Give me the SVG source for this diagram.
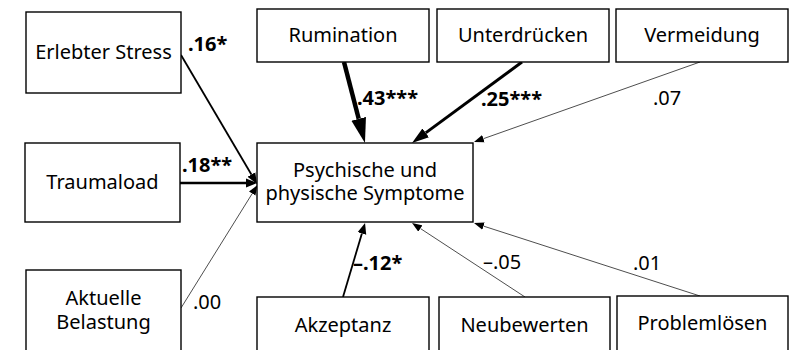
<svg xmlns="http://www.w3.org/2000/svg" width="800" height="350" viewBox="0 0 800 350">
<defs>
<style>
.box{fill:#fff;stroke:#000;stroke-width:1.4}
.t{font-family:"Noto Sans","Open Sans",sans-serif;font-size:20px;fill:#000;text-anchor:middle}
.l{font-family:"Noto Sans","Open Sans",sans-serif;font-size:20px;fill:#000}
.b{font-weight:bold}
.c{fill:none;stroke:#000}
</style>
<marker id="hXL" markerUnits="userSpaceOnUse" viewBox="0 -8 25 16" markerWidth="25" markerHeight="16" refX="0" refY="0" orient="auto"><path d="M0,-7.5 L25,0 L0,7.5 z"/></marker>
<marker id="hL" markerUnits="userSpaceOnUse" viewBox="0 -6 17 12" markerWidth="17" markerHeight="12" refX="0" refY="0" orient="auto"><path d="M0,-5.5 L17,0 L0,5.5 z"/></marker>
<marker id="hM" markerUnits="userSpaceOnUse" viewBox="0 -5 11 10" markerWidth="11" markerHeight="10" refX="0" refY="0" orient="auto"><path d="M0,-4.5 L11,0 L0,4.5 z"/></marker>
<marker id="hS" markerUnits="userSpaceOnUse" viewBox="0 -4 10 8" markerWidth="10" markerHeight="8" refX="0" refY="0" orient="auto"><path d="M0,-3.8 L10,0 L0,3.8 z"/></marker>
</defs>
<rect width="800" height="350" fill="#fff"/>
<g id="connectors">
<line class="c" x1="181" y1="55" x2="251.4" y2="174.5" stroke-width="1.8" marker-end="url(#hM)"/>
<line class="c" x1="180" y1="183" x2="246" y2="183" stroke-width="2.4" marker-end="url(#hM)"/>
<line class="c" x1="181" y1="308" x2="252.2" y2="193.6" stroke-width="0.7" marker-end="url(#hS)"/>
<line class="c" x1="344" y1="62" x2="358.7" y2="118.8" stroke-width="4.5" marker-end="url(#hXL)"/>
<line class="c" x1="522" y1="62" x2="425.7" y2="132.9" stroke-width="3" marker-end="url(#hL)"/>
<line class="c" x1="700" y1="62" x2="483.4" y2="138.7" stroke-width="0.7" marker-end="url(#hS)"/>
<line class="c" x1="343" y1="297" x2="361.9" y2="233.5" stroke-width="1.8" marker-end="url(#hM)"/>
<line class="c" x1="525" y1="297" x2="420.4" y2="228.5" stroke-width="0.7" marker-end="url(#hS)"/>
<line class="c" x1="700" y1="296" x2="483.5" y2="226.1" stroke-width="0.7" marker-end="url(#hS)"/>
<text class="l b" x="188" y="51">.16*</text>
<text class="l b" x="182" y="172">.18**</text>
<text class="l" x="193" y="309">.00</text>
<text class="l b" x="357" y="105">.43***</text>
<text class="l b" x="481" y="106">.25***</text>
<text class="l" x="653" y="105">.07</text>
<text class="l b" x="353" y="270">–.12*</text>
<text class="l" x="483" y="269">–.05</text>
<text class="l" x="633" y="270">.01</text>
</g>
<g id="erlebter-stress"><rect class="box" x="26" y="12" width="155" height="81"/><text class="t" x="103.5" y="59">Erlebter Stress</text></g>
<g id="traumaload"><rect class="box" x="25" y="143" width="155" height="79"/><text class="t" x="102.5" y="189">Traumaload</text></g>
<g id="aktuelle-belastung"><rect class="box" x="26" y="270" width="155" height="100"/><text class="t" x="103.5" y="305">Aktuelle</text><text class="t" x="103.5" y="329">Belastung</text></g>
<g id="rumination"><rect class="box" x="257" y="9" width="172" height="53"/><text class="t" x="343" y="42">Rumination</text></g>
<g id="unterdruecken"><rect class="box" x="437" y="9" width="172" height="53"/><text class="t" x="523" y="42">Unterdrücken</text></g>
<g id="vermeidung"><rect class="box" x="616" y="9" width="172" height="53"/><text class="t" x="702" y="42">Vermeidung</text></g>
<g id="symptome"><rect class="box" x="257" y="143" width="216" height="79"/><text class="t" x="365" y="177">Psychische und</text><text class="t" x="365" y="200">physische Symptome</text></g>
<g id="akzeptanz"><rect class="box" x="257" y="297" width="172" height="70"/><text class="t" x="343" y="332">Akzeptanz</text></g>
<g id="neubewerten"><rect class="box" x="439" y="297" width="171" height="70"/><text class="t" x="524.5" y="332">Neubewerten</text></g>
<g id="problemloesen"><rect class="box" x="617" y="296" width="171" height="70"/><text class="t" x="702.5" y="330">Problemlösen</text></g>
</svg>
